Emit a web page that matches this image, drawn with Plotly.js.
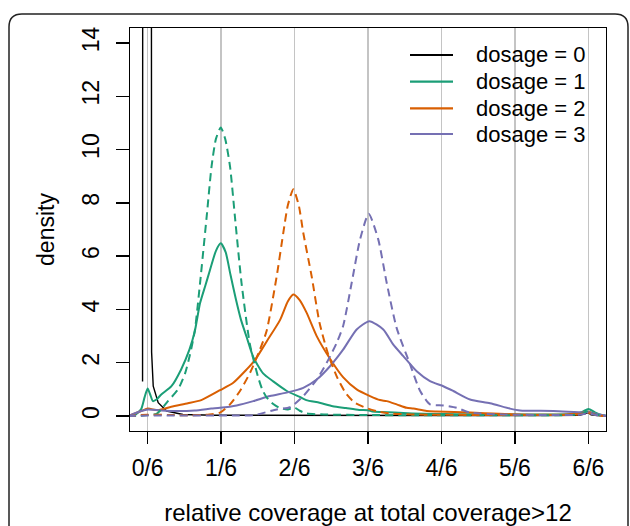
<!DOCTYPE html>
<html>
<head>
<meta charset="utf-8">
<script src="https://cdn.plot.ly/plotly-3.0.1.min.js"></script>
<style>
html,body{margin:0;padding:0;background:#fff;overflow:hidden;}
#chart{width:630px;height:526px;}
</style>
</head>
<body>
<div id="chart"></div>
<script>
// ---- data ----
const tickVals = [0, 1/6, 2/6, 3/6, 4/6, 5/6, 1];
const tickText = ["0/6", "1/6", "2/6", "3/6", "4/6", "5/6", "6/6"];
const yTicks = [0, 2, 4, 6, 8, 10, 12, 14];
const seriesNames = ["dosage = 0", "dosage = 1", "dosage = 2", "dosage = 3"];
const seriesColors = ["#000000", "#1B9E77", "#D95F02", "#7570B3"];

// dosage 0 (black)
const d0x = [-0.0115, -0.0112, -0.008, -0.004, 0.0, 0.004, 0.0086, 0.0090, 0.0127, 0.024, 0.043, 0.08, 0.15, 0.3, 0.5, 0.7, 0.9, 0.98, 0.995, 1.0, 1.006, 1.02, 1.045];
const d0y = [1.3, 16, 45, 60, 62, 45, 16, 2.4, 1.12, 0.5, 0.19, 0.06, 0.03, 0.02, 0.02, 0.02, 0.02, 0.03, 0.1, 0.13, 0.05, 0.02, 0.0];

// dosage 1 (green), solid
const d1x = [-0.045, -0.03, -0.015, -0.007, 0.0, 0.006, 0.012, 0.02, 0.031, 0.054, 0.076, 0.095, 0.107, 0.119, 0.131, 0.141, 0.155, 0.166, 0.177, 0.188, 0.2, 0.212, 0.225, 0.24, 0.262, 0.285, 0.315, 0.345, 0.36, 0.39, 0.42, 0.45, 0.48, 0.5, 0.51, 0.53, 0.56, 0.6, 0.65, 0.7, 0.8, 0.9, 0.96, 0.985, 1.0, 1.015, 1.03, 1.045];
const d1y = [0, 0.03, 0.25, 0.7, 1.03, 0.8, 0.56, 0.62, 0.81, 1.12, 1.75, 2.5, 3.18, 4.24, 4.9, 5.45, 6.2, 6.48, 6.15, 5.3, 4.4, 3.6, 2.95, 2.2, 1.6, 1.3, 0.95, 0.72, 0.6, 0.5, 0.37, 0.3, 0.23, 0.22, 0.17, 0.15, 0.13, 0.1, 0.08, 0.07, 0.06, 0.06, 0.08, 0.15, 0.27, 0.14, 0.04, 0];
// dosage 1 (green), dashed
const d1dx = [-0.045, -0.02, 0.0, 0.01, 0.02, 0.031, 0.046, 0.069, 0.085, 0.096, 0.107, 0.119, 0.134, 0.145, 0.155, 0.166, 0.176, 0.187, 0.198, 0.213, 0.232, 0.25, 0.26, 0.27, 0.285, 0.30, 0.318, 0.333, 0.345, 0.36, 0.4, 0.5, 0.6, 0.8, 0.97, 0.99, 1.0, 1.012, 1.03, 1.045];
const d1dy = [0, 0.01, 0.04, 0.05, 0.08, 0.25, 0.56, 1.0, 1.6, 2.3, 3.2, 5.0, 7.49, 9.36, 10.4, 10.83, 10.4, 9.36, 7.49, 5.0, 2.7, 1.5, 1.0, 0.7, 0.45, 0.3, 0.25, 0.32, 0.2, 0.1, 0.06, 0.04, 0.03, 0.03, 0.05, 0.12, 0.2, 0.08, 0.02, 0];

// dosage 2 (orange), solid
const d2x = [-0.045, -0.0145, 0.0007, 0.0234, 0.0536, 0.0915, 0.1217, 0.1641, 0.1943, 0.2247, 0.2435, 0.2701, 0.3003, 0.318, 0.3305, 0.345, 0.3609, 0.3836, 0.4138, 0.4439, 0.4743, 0.5045, 0.5272, 0.5424, 0.5651, 0.5878, 0.6028, 0.6332, 0.6559, 0.7315, 0.845, 0.95, 0.9887, 1.0, 1.015, 1.034, 1.045];
const d2y = [0.0, 0.19, 0.28, 0.22, 0.35, 0.48, 0.6, 0.97, 1.25, 1.75, 2.1, 2.8, 3.6, 4.3, 4.56, 4.35, 3.87, 3.0, 2.15, 1.45, 1.0, 0.75, 0.6, 0.56, 0.44, 0.31, 0.28, 0.19, 0.17, 0.13, 0.06, 0.06, 0.13, 0.16, 0.08, 0.01, 0];
// dosage 2 (orange), dashed
const d2dx = [-0.045, 0.0, 0.05, 0.1, 0.14, 0.1641, 0.1868, 0.2095, 0.2322, 0.2549, 0.2701, 0.2928, 0.3078, 0.318, 0.3305, 0.343, 0.3532, 0.3722, 0.39, 0.41, 0.43, 0.45, 0.47, 0.5, 0.52, 0.55, 0.6, 0.8, 0.97, 1.0, 1.02, 1.045];
const d2dy = [0, 0.05, 0.04, 0.03, 0.06, 0.13, 0.44, 0.94, 1.62, 2.5, 3.2, 5.24, 6.87, 7.9, 8.51, 7.9, 6.87, 5.24, 3.5, 2.3, 1.45, 0.85, 0.5, 0.28, 0.18, 0.1, 0.06, 0.04, 0.05, 0.12, 0.03, 0];

// dosage 3 (purple), solid
const d3x = [-0.045, -0.0145, 0.0007, 0.0309, 0.0688, 0.1067, 0.1443, 0.1641, 0.202, 0.2397, 0.2776, 0.3155, 0.3532, 0.3836, 0.4138, 0.4439, 0.4743, 0.503, 0.5347, 0.5574, 0.5801, 0.6105, 0.6407, 0.6709, 0.6936, 0.7315, 0.7769, 0.8223, 0.845, 0.9206, 0.9887, 1.0, 1.034, 1.045];
const d3y = [0.0, 0.19, 0.25, 0.21, 0.19, 0.21, 0.28, 0.31, 0.4, 0.56, 0.75, 0.88, 1.06, 1.37, 1.87, 2.5, 3.25, 3.56, 3.25, 2.68, 2.25, 1.68, 1.31, 1.12, 0.94, 0.62, 0.48, 0.28, 0.21, 0.19, 0.13, 0.14, 0.03, 0];
// dosage 3 (purple), dashed
const d3dx = [-0.045, 0.0, 0.2, 0.2397, 0.2928, 0.323, 0.3532, 0.3836, 0.4063, 0.429, 0.4439, 0.463, 0.4819, 0.5016, 0.5234, 0.5424, 0.5651, 0.5953, 0.618, 0.6407, 0.6709, 0.7013, 0.7315, 0.8071, 0.9, 0.98, 1.0, 1.02, 1.045];
const d3dy = [0, 0.02, 0.02, 0.03, 0.25, 0.33, 0.75, 1.37, 2.0, 2.75, 3.4, 5.0, 6.62, 7.59, 6.62, 5.0, 3.3, 1.95, 0.95, 0.44, 0.4, 0.31, 0.13, 0.06, 0.04, 0.05, 0.1, 0.03, 0];

// ---- chart ----
const FONT = "Liberation Sans, Arial, Helvetica, sans-serif";
const DASH = "8px,5px";
function solid(x, y, i, w) {
  return {x: x, y: y, type: "scatter", mode: "lines", name: seriesNames[i],
    line: {color: seriesColors[i], width: w, shape: "spline", smoothing: 0.6}, hoverinfo: "skip"};
}
function dashed(x, y, i) {
  return {x: x, y: y, type: "scatter", mode: "lines", name: seriesNames[i] + " (dashed)",
    line: {color: seriesColors[i], width: 2, dash: DASH, shape: "spline", smoothing: 0.6}, hoverinfo: "skip"};
}
const traces = [
  solid(d0x, d0y, 0, 1.4),
  solid(d1x, d1y, 1, 2),
  solid(d2x, d2y, 2, 2),
  solid(d3x, d3y, 3, 2),
  dashed(d1dx, d1dy, 1),
  dashed(d2dx, d2dy, 2),
  dashed(d3dx, d3dy, 3)
];
traces[0].line.shape = "linear";

// pixel -> paper helpers
const L = 130, R = 606, T = 28, B = 431;
const px = v => (v - L) / (R - L), py = v => (B - v) / (B - T);

// frame (rounded panel border)
const fl = px(9), fr = px(628), ft = py(14), fb = py(560), r = 13;
const framePath = `M ${fl},${fb} L ${fl},${py(14 + r)} Q ${fl},${ft} ${px(9 + r)},${ft} L ${px(628 - r)},${ft} Q ${fr},${ft} ${fr},${py(14 + r)} L ${fr},${fb}`;
const shapes = [{type: "path", xref: "paper", yref: "paper", path: framePath,
  line: {color: "#222", width: 1.5}, layer: "above"}];

// legend (line samples + labels)
const legendRowY = [55, 81.7, 108.3, 134];
const annotations = [];
seriesNames.forEach((nm, i) => {
  shapes.push({type: "line", xref: "paper", yref: "paper",
    x0: px(410), x1: px(453), y0: py(legendRowY[i]), y1: py(legendRowY[i]),
    line: {color: seriesColors[i], width: i === 0 ? 2 : 2.2}});
  annotations.push({xref: "paper", yref: "paper", x: px(474), y: py(legendRowY[i]),
    xanchor: "left", yanchor: "middle", showarrow: false, text: nm,
    font: {size: 22, family: FONT, color: "#000"}});
});

const layout = {
  width: 630, height: 526,
  margin: {l: L, r: 630 - R, t: T, b: 526 - B, pad: 0},
  paper_bgcolor: "rgba(0,0,0,0)", plot_bgcolor: "rgba(0,0,0,0)",
  font: {family: FONT, size: 23, color: "#000"},
  showlegend: false,
  xaxis: {range: [-0.04, 1.04], tickmode: "array", tickvals: tickVals, ticktext: tickText,
    ticks: "outside", ticklen: 12, tickwidth: 1.3, tickcolor: "#000",
    showgrid: true, gridcolor: "#c4c4c4", gridwidth: 1.2, zeroline: false,
    showline: true, linecolor: "#000", linewidth: 1.3, mirror: true,
    tickfont: {size: 23}, ticklabelstandoff: 4,
    title: {text: "relative coverage at total coverage>12", font: {size: 24}, standoff: 24}},
  yaxis: {range: [-0.56, 14.56], tickmode: "array", tickvals: yTicks,
    ticks: "outside", ticklen: 13, tickwidth: 1.3, tickcolor: "#000", tickangle: -90,
    showgrid: false, zeroline: false,
    showline: true, linecolor: "#000", linewidth: 1.3, mirror: true,
    tickfont: {size: 23}, ticklabelstandoff: 8,
    title: {text: "density", font: {size: 23}, standoff: 16}},
  shapes: shapes,
  annotations: annotations
};

Plotly.newPlot("chart", traces, layout, {staticPlot: true, displayModeBar: false});
</script>
</body>
</html>
